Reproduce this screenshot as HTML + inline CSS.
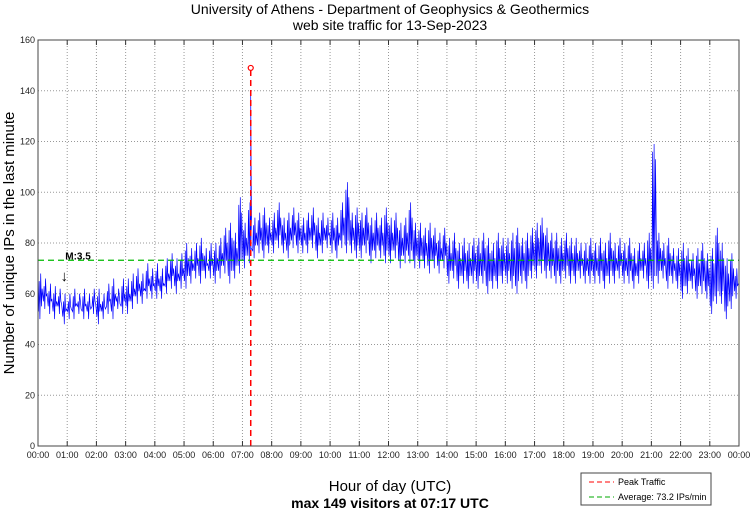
<!DOCTYPE html>
<html><head><meta charset="utf-8"><style>
body{margin:0;background:#fff;}
svg{display:block;font-family:"Liberation Sans",sans-serif;}
</style></head><body>
<svg id="c" width="750" height="511" xmlns="http://www.w3.org/2000/svg">
<text x="390" y="14" text-anchor="middle" font-size="14">University of Athens - Department of Geophysics &amp; Geothermics</text>
<text x="390" y="30" text-anchor="middle" font-size="14">web site traffic for 13-Sep-2023</text>
<text transform="translate(14,243) rotate(-90)" text-anchor="middle" font-size="15">Number of unique IPs in the last minute</text>
<text x="390" y="491" text-anchor="middle" font-size="15">Hour of day (UTC)</text>
<text x="390" y="508" text-anchor="middle" font-size="14" font-weight="bold">max 149 visitors at 07:17 UTC</text>
<g id="grid"></g><g id="series"></g><g id="axes"></g>
<g>
<rect x="581" y="473" width="130" height="32" fill="#fff" stroke="#444" stroke-width="1"/>
<line x1="589" y1="482" x2="614" y2="482" stroke="#f00" stroke-dasharray="5,3"/>
<text x="618" y="485" font-size="9">Peak Traffic</text>
<line x1="589" y1="497" x2="614" y2="497" stroke="#0a0" stroke-dasharray="5,3"/>
<text x="618" y="500" font-size="9">Average: 73.2 IPs/min</text>
</g>
</svg>
<script>
const hourLabels=["00:00","01:00","02:00","03:00","04:00","05:00","06:00","07:00","08:00","09:00","10:00","11:00","12:00","13:00","14:00","15:00","16:00","17:00","18:00","19:00","20:00","21:00","22:00","23:00","00:00"];
const yTicks=[0,20,40,60,80,100,120,140,160];
const highs=[68,66,64,63,62,60, 60,62,60,62,60,62, 62,60,64,66,62,66, 66,68,70,68,72,70, 72,70,74,76,74,76, 80,78,80,82,78,80, 80,82,86,88,84,98, 88,96,90,92,94,90, 92,96,90,92,94,92, 90,92,94,90,92,90, 92,90,96,104,92,94, 92,94,90,92,90,94, 90,92,88,90,96,88, 88,86,88,86,84,86, 82,84,80,82,80,82, 82,84,82,80,84,82, 82,84,86,82,84,86, 88,90,86,84,84,82, 84,82,82,80,80,82, 80,82,80,84,80,82, 80,82,78,80,80,84, 119,84,80,82,78,78, 80,78,76,78,80,76, 78,86,80,74,76,70];
const lows=[50,54,52,50,52,48, 50,50,52,50,50,52, 48,50,52,50,54,52, 52,54,56,56,58,58, 58,58,60,62,60,62, 62,64,66,64,66,66, 64,66,68,64,66,68, 70,72,74,76,74,76, 76,78,76,74,78,76, 76,76,78,74,76,78, 76,74,78,76,76,74, 74,76,72,74,74,72, 72,74,70,72,72,70, 70,70,68,70,68,70, 64,66,62,64,62,64, 62,64,60,62,62,64, 64,62,60,64,62,66, 66,68,66,66,64,64, 66,64,64,66,64,64, 64,64,62,64,64,66, 64,64,62,64,66,62, 62,64,66,62,64,62, 58,60,62,58,60,58, 52,56,56,50,54,58];
const peakMinute=437, peakValue=149, peakBlue=138;
const averageValue=73.2;
const L=38,R=739,T=40,B=446;
const X=m=>L+m/1440*(R-L), Y=v=>B-v/160*(B-T);
const NS="http://www.w3.org/2000/svg";
function mk(p,tag,a){const e=document.createElementNS(NS,tag);for(const k in a)e.setAttribute(k,a[k]);p.appendChild(e);return e;}
const g=document.getElementById('grid'),s=document.getElementById('series'),ax=document.getElementById('axes');
hourLabels.forEach((h,i)=>{const x=X(i*60);
 if(i>0&&i<24){const l=mk(g,'line',{x1:x,y1:T,x2:x,y2:B,stroke:'#999','stroke-dasharray':'1,2','stroke-width':1});
 
 }
 const t=mk(ax,'line',{x1:x,y1:B,x2:x,y2:B-5,stroke:'#333'});
 
 
 const t2=mk(ax,'line',{x1:x,y1:T,x2:x,y2:T+5,stroke:'#333'});
 
 
 const tx=mk(ax,'text',{x:x,y:B+12,'text-anchor':'middle','font-size':9,fill:'#222'});tx.textContent=h;
 
 });
yTicks.forEach(v=>{const y=Y(v);
 if(v>0&&v<160){const l=mk(g,'line',{x1:L,y1:y,x2:R,y2:y,stroke:'#999','stroke-dasharray':'1,2','stroke-width':1});
 
 }
 const tx=mk(ax,'text',{x:L-3,y:y+3,'text-anchor':'end','font-size':9,fill:'#222'});tx.textContent=v;
 
 });
const frame=mk(ax,'rect',{x:L,y:T,width:R-L,height:B-T,fill:'none',stroke:'#444'});


let pts=[];
for(let i=0;i<highs.length;i++){
 const m=i*10;
 pts.push([m+1,lows[i]+3],[m+2.5,highs[i]-3],[m+4,lows[i]],[m+5.5,highs[i]],[m+7,lows[i]+5],[m+8.5,highs[i]-6]);
 if(m<peakMinute&&m+10>peakMinute){pts.push([peakMinute,peakBlue],[peakMinute+0.5,lows[i]+6]);}
}
const line=mk(s,'polyline',{points:pts.map(p=>X(p[0]).toFixed(1)+','+Y(p[1]).toFixed(1)).join(' '),fill:'none',stroke:'#00f','stroke-width':0.7});


const av=mk(s,'line',{x1:L,x2:R,y1:Y(averageValue),y2:Y(averageValue),stroke:'#0b0','stroke-dasharray':'6,4','stroke-width':1.2});


const pk=mk(s,'line',{x1:X(peakMinute),x2:X(peakMinute),y1:B,y2:Y(peakValue),stroke:'#f00','stroke-dasharray':'6,4','stroke-width':1.5});


const pc=mk(s,'circle',{cx:X(peakMinute),cy:Y(peakValue),r:2.5,fill:'none',stroke:'#f00','stroke-width':1.2});


const mt=mk(s,'text',{x:X(56),y:Y(73.5),'font-size':10,'font-weight':'bold'});mt.textContent='M:3.5';


const ar=mk(s,'text',{x:X(54),y:Y(65),'font-size':15,'text-anchor':'middle'});ar.textContent='↓';


</script>
</body></html>
